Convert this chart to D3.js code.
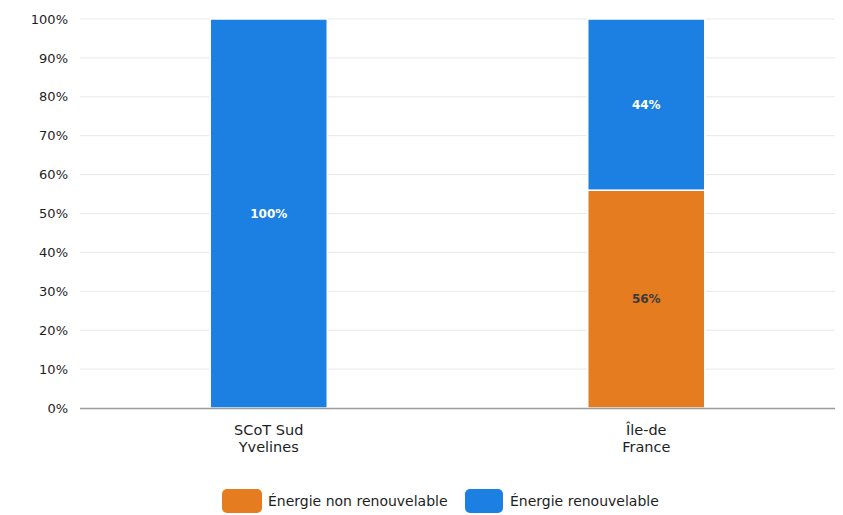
<!DOCTYPE html>
<html><head><meta charset="utf-8">
<script src="https://cdn.jsdelivr.net/npm/d3@7"></script>
<style>body{margin:0;background:#fff}svg{display:block}</style>
</head><body>
<svg id="c" width="843" height="515"></svg>
<script>
const categories = [["SCoT Sud", "Yvelines"], ["Île-de", "France"]];
const seriesNames = ["Énergie non renouvelable", "Énergie renouvelable"];
const nonRenouvelable = [0, 56];
const renouvelable = [100, 44];
const yTicks = [0, 10, 20, 30, 40, 50, 60, 70, 80, 90, 100];
const colors = ["#e57c1f", "#1b80e2"];
const labelColors = ["#3b3b3b", "#ffffff"];

const svg = d3.select("#c");
const font = "'DejaVu Sans', Verdana, sans-serif";
const m = {l: 80, r: 8, t: 19, b: 107};
const W = 843, H = 515;
const x = d3.scaleBand().domain(categories.map((d, i) => i)).range([m.l, W - m.r]).paddingInner(0.69).paddingOuter(0.345);
const y = d3.scaleLinear().domain([0, 100]).range([H - m.b, m.t]);

// gridlines
svg.append("g").selectAll("line").data(yTicks.filter(d => d > 0)).join("line")
  .attr("x1", m.l).attr("x2", W - m.r)
  .attr("y1", d => y(d)).attr("y2", d => y(d))
  .attr("stroke", "#e8e8e8").attr("stroke-width", 1);

// y axis labels
const ya = svg.append("g").attr("transform", `translate(${m.l},0)`)
  .call(d3.axisLeft(y).tickValues(yTicks).tickFormat(d => d + "%").tickSize(0).tickPadding(12));
ya.select(".domain").remove();
ya.selectAll("text").attr("font-family", font).attr("font-size", 13).attr("fill", "#1e1e1e");

// stacked data
const rows = categories.map((c, i) => ({i, a: nonRenouvelable[i], b: renouvelable[i]}));
const stack = d3.stack().keys(["a", "b"])(rows);

stack.forEach((s, si) => {
  const g = svg.append("g");
  g.selectAll("rect").data(s.filter(d => d[1] - d[0] > 0)).join("rect")
    .attr("x", d => x(d.data.i)).attr("width", x.bandwidth())
    .attr("y", d => y(d[1])).attr("height", d => y(d[0]) - y(d[1]))
    .attr("fill", colors[si]).attr("stroke", "#fff").attr("stroke-width", 1.5);
  g.selectAll("text").data(s.filter(d => d[1] - d[0] > 0)).join("text")
    .attr("x", d => x(d.data.i) + x.bandwidth() / 2)
    .attr("y", d => (y(d[0]) + y(d[1])) / 2)
    .attr("dy", "0.35em").attr("text-anchor", "middle")
    .attr("font-family", font).attr("font-size", 12).attr("font-weight", "bold")
    .attr("fill", labelColors[si])
    .text(d => Math.round(d[1] - d[0]) + "%");
});

// x axis line
svg.append("line").attr("x1", m.l).attr("x2", W - m.r)
  .attr("y1", y(0) + 0.5).attr("y2", y(0) + 0.5)
  .attr("stroke", "#9a9a9a").attr("stroke-width", 1.5);

// category labels
const xl = svg.append("g");
categories.forEach((c, i) => {
  c.forEach((line, j) => {
    xl.append("text").attr("text-anchor", "middle")
      .attr("font-family", font).attr("font-size", 14.5).attr("fill", "#1e1e1e")
      .attr("x", x(i) + x.bandwidth() / 2).attr("y", 435 + j * 17).text(line);
  });
});

// legend
const leg = [{x: 222, w: 40, tx: 268}, {x: 465, w: 38, tx: 510}];
seriesNames.forEach((n, i) => {
  svg.append("rect").attr("x", leg[i].x).attr("y", 489).attr("width", leg[i].w).attr("height", 24)
    .attr("rx", 5).attr("fill", colors[i]);
  svg.append("text").attr("x", leg[i].tx).attr("y", 501).attr("dy", "0.35em")
    .attr("font-family", font).attr("font-size", 14).attr("fill", "#1e1e1e").text(n);
});
</script>
</body></html>
